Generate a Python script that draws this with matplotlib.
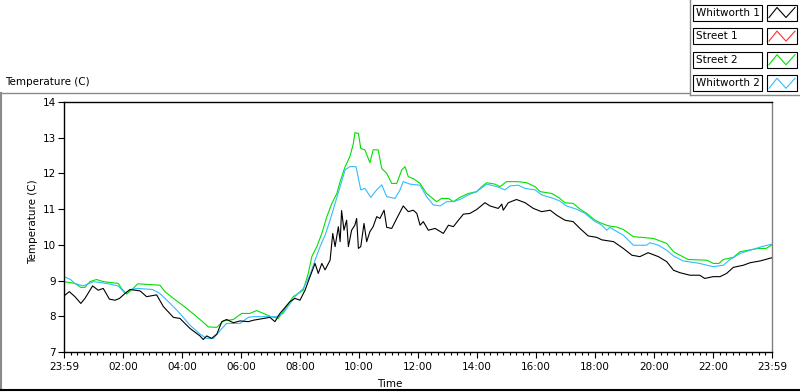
import matplotlib
matplotlib.use('Agg')
import matplotlib.pyplot as plt
from matplotlib.lines import Line2D
from matplotlib.patches import Rectangle
from matplotlib.ticker import MultipleLocator

plt.rcParams['font.family'] = ['DejaVu Sans']
plt.rcParams['font.size'] = 7.5

# hours since 23:59
w1_t = [0, 0.18, 0.37, 0.57, 0.71, 0.97, 1.16, 1.33, 1.54, 1.73, 1.88, 2.07, 2.24, 2.58, 2.80, 3.14,
        3.37, 3.71, 3.93, 4.27, 4.61, 4.72, 4.84, 5.0, 5.18, 5.35, 5.51, 5.74, 5.97, 6.25, 6.42, 6.98,
        7.15, 7.32, 7.66, 7.83, 8.0, 8.17, 8.34, 8.51, 8.62, 8.74, 8.85, 9.02, 9.11, 9.19, 9.3, 9.36,
        9.41, 9.49, 9.58, 9.64, 9.75, 9.86, 9.92, 9.98, 10.06, 10.17, 10.26, 10.37, 10.48, 10.6, 10.71,
        10.85, 10.94, 11.11, 11.28, 11.5, 11.67, 11.84, 11.96, 12.07, 12.18, 12.35, 12.58, 12.86, 13.03,
        13.2, 13.37, 13.54, 13.76, 13.99, 14.27, 14.44, 14.72, 14.84, 14.89, 15.06, 15.34, 15.63, 15.91,
        16.19, 16.48, 16.7, 16.98, 17.26, 17.49, 17.77, 18.06, 18.23, 18.47, 18.63, 18.96, 19.25, 19.52,
        19.8, 20.15, 20.43, 20.66, 20.88, 21.22, 21.55, 21.72, 22.01, 22.24, 22.46, 22.69, 23.03, 23.26,
        23.6, 24]
w1_v = [8.57, 8.69, 8.55, 8.36, 8.50, 8.85, 8.73, 8.78, 8.48, 8.45, 8.50, 8.64, 8.75, 8.71, 8.55, 8.60,
        8.27, 7.97, 7.94, 7.66, 7.45, 7.35, 7.45, 7.38, 7.50, 7.85, 7.91, 7.82, 7.87, 7.85, 7.89, 7.97,
        7.85, 8.08, 8.41, 8.50, 8.45, 8.73, 9.11, 9.48, 9.20, 9.48, 9.30, 9.57, 10.32, 9.95, 10.51, 10.09,
        10.96, 10.41, 10.69, 9.95, 10.41, 10.55, 10.74, 9.90, 9.95, 10.60, 10.09, 10.37, 10.51, 10.79, 10.74,
        10.97, 10.49, 10.46, 10.74, 11.09, 10.93, 10.97, 10.88, 10.55, 10.65, 10.41, 10.46, 10.32, 10.55,
        10.51, 10.69, 10.86, 10.88, 10.99, 11.18, 11.09, 11.02, 11.14, 10.97, 11.18, 11.27, 11.18, 11.02,
        10.93, 10.97, 10.83, 10.69, 10.65, 10.46, 10.25, 10.21, 10.14, 10.11, 10.09, 9.90, 9.71, 9.67,
        9.78, 9.67, 9.53, 9.29, 9.22, 9.15, 9.15, 9.06, 9.11, 9.11, 9.20, 9.37, 9.43, 9.50,
        9.55, 9.64]

s1_t = []
s1_v = []

s2_t = [0, 0.37, 0.57, 0.71, 0.88, 1.1, 1.33, 1.84, 1.95, 2.12, 2.35, 2.5, 3.25, 3.42, 3.71, 4.16, 4.61,
        4.9, 5.18, 5.4, 5.74, 6.02, 6.3, 6.53, 6.76, 6.98, 7.26, 7.43, 7.77, 8.11, 8.28, 8.4, 8.57, 8.74,
        8.91, 9.08, 9.25, 9.36, 9.53, 9.69, 9.81, 9.86, 9.98, 10.06, 10.2, 10.37, 10.48, 10.65, 10.77,
        10.94, 11.11, 11.28, 11.45, 11.56, 11.67, 11.85, 12.07, 12.29, 12.63, 12.8, 13.03, 13.2, 13.42,
        13.71, 13.99, 14.16, 14.33, 14.61, 14.78, 15.0, 15.37, 15.68, 15.97, 16.14, 16.53, 16.76, 16.98,
        17.26, 17.49, 17.72, 18.0, 18.23, 18.47, 18.73, 18.96, 19.3, 19.98, 20.43, 20.66, 20.88, 21.16,
        21.79, 22.01, 22.2, 22.35, 22.69, 22.92, 23.2, 23.54, 23.8, 24]
s2_v = [8.97, 8.92, 8.81, 8.81, 8.97, 9.03, 8.97, 8.92, 8.78, 8.62, 8.78, 8.91, 8.87, 8.69, 8.50, 8.22, 7.91,
        7.70, 7.69, 7.87, 7.91, 8.08, 8.08, 8.16, 8.08, 8.0, 7.94, 8.13, 8.55, 8.73, 9.20, 9.67, 9.95, 10.32,
        10.79, 11.16, 11.44, 11.77, 12.19, 12.47, 12.84, 13.14, 13.12, 12.70, 12.66, 12.30, 12.66, 12.66, 12.14,
        12.0, 11.72, 11.72, 12.10, 12.19, 11.91, 11.85, 11.72, 11.44, 11.21, 11.30, 11.30, 11.21, 11.33,
        11.44, 11.49, 11.63, 11.74, 11.70, 11.63, 11.77, 11.77, 11.74, 11.63, 11.49, 11.44, 11.33, 11.18,
        11.16, 11.0, 10.88, 10.69, 10.60, 10.53, 10.50, 10.43, 10.23, 10.18, 10.04, 9.81, 9.71, 9.59,
        9.57, 9.48, 9.48, 9.59, 9.65, 9.81, 9.85, 9.90, 9.90, 10.0]

w2_t = [0, 0.22, 0.37, 0.65, 1.0, 1.44, 1.84, 2.07, 2.24, 2.5, 3.0, 3.25, 3.6, 3.93, 4.27, 4.61, 4.84,
        5.07, 5.3, 5.51, 5.97, 6.25, 6.42, 7.2, 7.43, 7.83, 8.11, 8.34, 8.51, 8.68, 8.85, 9.02, 9.19, 9.36,
        9.53, 9.69, 9.9, 9.98, 10.06, 10.2, 10.4, 10.6, 10.77, 10.94, 11.22, 11.39, 11.5, 11.73, 12.07,
        12.29, 12.52, 12.75, 12.97, 13.2, 13.42, 13.76, 13.99, 14.33, 14.67, 14.95, 15.12, 15.4, 15.63,
        15.97, 16.19, 16.59, 16.8, 17.03, 17.37, 17.66, 17.94, 18.23, 18.4, 18.5, 18.96, 19.3, 19.75,
        19.86, 20.15, 20.43, 20.66, 20.99, 21.55, 21.79, 22.01, 22.35, 22.58, 22.92, 23.26, 23.65, 24]
w2_v = [9.11, 9.03, 8.92, 8.85, 8.97, 8.92, 8.85, 8.64, 8.75, 8.78, 8.75, 8.64, 8.36, 8.08, 7.75, 7.50, 7.38,
        7.38, 7.61, 7.80, 7.80, 7.97, 7.99, 7.99, 8.08, 8.55, 8.78, 9.16, 9.57, 9.95, 10.27, 10.69, 11.16, 11.63,
        12.10, 12.19, 12.19, 11.86, 11.54, 11.58, 11.33, 11.54, 11.68, 11.35, 11.30, 11.54, 11.77, 11.70, 11.67,
        11.35, 11.12, 11.09, 11.21, 11.21, 11.27, 11.42, 11.49, 11.70, 11.63, 11.54, 11.65, 11.67, 11.58,
        11.54, 11.40, 11.30, 11.23, 11.09, 11.0, 10.88, 10.69, 10.55, 10.41, 10.49, 10.27, 9.99, 9.99,
        10.06, 9.99, 9.85, 9.69, 9.55, 9.48, 9.43, 9.39, 9.43, 9.59, 9.76, 9.85, 9.95, 10.02]

names = ['Whitworth 1', 'Street 1', 'Street 2', 'Whitworth 2']
colors = ['black', '#ff3030', '#00e000', '#33bbff']
tick_hours = [0, 2, 4, 6, 8, 10, 12, 14, 16, 18, 20, 22, 24]
tick_labels = ['23:59', '02:00', '04:00', '06:00', '08:00', '10:00', '12:00',
               '14:00', '16:00', '18:00', '20:00', '22:00', '23:59']

W, H = 800, 392
fig = plt.figure(figsize=(W / 100, H / 100), dpi=100)


def fx(x):
    return x / W


def fy(y):
    return 1 - y / H


ax = fig.add_axes([fx(64), fy(352), fx(772) - fx(64), fy(102) - fy(352)])
for t, v, c in [(w1_t, w1_v, colors[0]), (s1_t, s1_v, colors[1]),
                (s2_t, s2_v, colors[2]), (w2_t, w2_v, colors[3])]:
    ax.plot(t, v, color=c, lw=0.8)
# black on top like the original
ax.lines[0].set_zorder(3)

ax.set_xlim(0, 24)
ax.set_ylim(7, 14)
ax.set_xticks(tick_hours)
ax.set_xticklabels(tick_labels)
ax.xaxis.set_minor_locator(MultipleLocator(2 / 9))
ax.set_yticks(range(7, 15))
ax.tick_params(axis='both', which='major', direction='out', length=4, width=0.8, pad=2)
ax.tick_params(axis='x', which='minor', direction='out', length=2.5, width=0.8)
ax.tick_params(axis='x', which='major', pad=3)
for s in ['left', 'top', 'bottom']:
    ax.spines[s].set_color('black')
    ax.spines[s].set_linewidth(1.0)
ax.spines['right'].set_color('#808080')
ax.spines['right'].set_linewidth(1.0)

fig.text(fx(390), fy(384), 'Time', ha='center', va='center')
fig.text(fx(33), fy(222), 'Temperature (C)', rotation=90, ha='center', va='center')
fig.text(fx(5), fy(82), 'Temperature (C)', ha='left', va='center')

# panel frame
grey = '#8a8a8a'
fig.add_artist(Line2D([fx(1), fx(1)], [fy(93), fy(390)], color=grey, lw=1.5))
fig.add_artist(Line2D([fx(0), fx(689)], [fy(93), fy(93)], color=grey, lw=1.0))
fig.add_artist(Line2D([fx(0), fx(800)], [fy(390), fy(390)], color='black', lw=1.5))
fig.add_artist(Line2D([fx(690), fx(690)], [fy(0), fy(95)], color=grey, lw=1.0))
fig.add_artist(Line2D([fx(690), fx(800)], [fy(95), fy(95)], color=grey, lw=1.0))

# legend boxes
for i, (name, c) in enumerate(zip(names, colors)):
    top = 4.5 + i * 23.6
    bot = top + 16
    fig.add_artist(Rectangle((fx(693), fy(bot)), fx(762) - fx(693), fy(top) - fy(bot),
                             facecolor='white', edgecolor='black', lw=0.8))
    fig.text(fx(696), fy((top + bot) / 2), name, ha='left', va='center')
    fig.add_artist(Rectangle((fx(767), fy(bot)), fx(797) - fx(767), fy(top) - fy(bot),
                             facecolor='white', edgecolor='black', lw=0.8))
    zx = [769, 777, 786, 795]
    zy = [bot - 3, top + 3, bot - 3, top + 3]
    fig.add_artist(Line2D([fx(x) for x in zx], [fy(y) for y in zy], color=c, lw=0.8))

fig.savefig('out.png', dpi=100)
